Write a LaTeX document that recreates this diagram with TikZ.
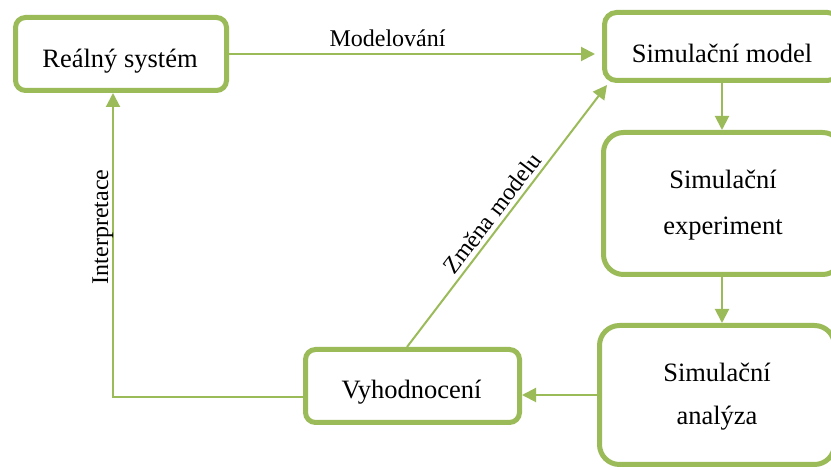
\documentclass[tikz,border=0pt]{standalone}
\usepackage{fontspec}
\setmainfont{Liberation Serif}
\usetikzlibrary{arrows.meta,calc}
\definecolor{olive}{HTML}{9BBB59}
\tikzset{
  boxnode/.style={draw=olive, line width=5pt, fill=white, inner sep=0pt},
  boxtxt/.style={font=\fontsize{26.5}{30}\selectfont, anchor=base, inner sep=0pt},
  lbl/.style={font=\fontsize{24}{28}\selectfont, inner sep=0pt, outer sep=0pt},
  conn/.style={draw=olive, line width=2pt},
  arr/.style={conn, -{Triangle[length=14pt,width=14pt]}}
}
\begin{document}
\begin{tikzpicture}[x=1pt,y=-1pt]
\useasboundingbox (0,0) rectangle (831,470);
% boxes
\node[boxnode, rounded corners=10pt, minimum width=211pt, minimum height=73pt] (rs) at (121,54) {};
\node[boxnode, rounded corners=12pt, minimum width=235pt, minimum height=68pt] (sm) at (722,46.5) {};
\node[boxnode, rounded corners=20pt, minimum width=239pt, minimum height=142pt] (ex) at (723,203.5) {};
\node[boxnode, rounded corners=20pt, minimum width=235pt, minimum height=139pt] (an) at (717,395) {};
\node[boxnode, rounded corners=10pt, minimum width=214pt, minimum height=73pt] (vy) at (412.5,386) {};
% box texts
\node[boxtxt] (rst) at (120,68) {Reálný systém};
\node[boxtxt] (smt) at (722,63) {Simulační model};
\node[boxtxt] (ext1) at (723,189) {Simulační};
\node[boxtxt] (ext2) at (723,235) {experiment};
\node[boxtxt] (ant1) at (717,382) {Simulační};
\node[boxtxt] (ant2) at (717,425) {analýza};
\node[boxtxt] (vyt) at (411.5,399) {Vyhodnocení};
% connectors
\draw[arr, shorten >=7pt] (rs.east) -- node[lbl, pos=0.425, anchor=base, yshift=7pt] (mod) {Modelování} (sm.west |- rs.east);
\draw[arr] (sm.south) -- (sm.south |- ex.north);
\draw[arr] (ex.south -| sm.south) -- (sm.south |- an.north);
\draw[arr] (an.west) -- (vy.east |- an.west);
\coordinate (corner) at (113,397);
\draw[arr] (vy.west |- corner) -- (corner) -- (corner |- rs.south);
\node[lbl, rotate=90, anchor=base] (interp) at (108,227) {Interpretace};
\coordinate (dstart) at ($(vy.north)+(-5.5,0)$);
\coordinate (dend) at ($(sm.south west)+(5,2)$);
\draw[arr] (dstart) -- node[lbl, sloped, pos=0.48, above, inner sep=5pt] (zm) {Změna modelu} (dend);
\end{tikzpicture}
\end{document}
